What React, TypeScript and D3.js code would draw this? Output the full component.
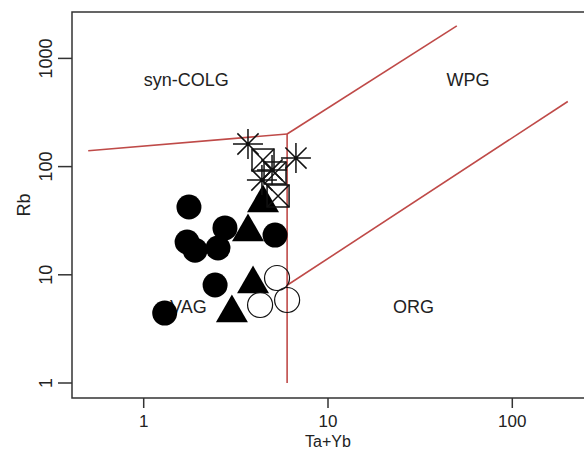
import React from "react";
import * as d3 from "d3";

const xTicks = [1, 10, 100];
const yTicks = [1, 10, 100, 1000];

// Filled circles (Ta+Yb, Rb)
const filledCircleX = [1.76, 1.72, 1.9, 2.53, 2.76, 5.16, 2.44, 1.3];
const filledCircleY = [42.3, 20.1, 16.9, 17.7, 27.1, 23.3, 8.05, 4.43];
// Filled triangles
const triangleX = [4.44, 3.68, 3.92, 3.01];
const triangleY = [46.1, 24.9, 8.22, 4.43];
// Open circles
const openCircleX = [5.29, 4.28, 6.0];
const openCircleY = [9.34, 5.26, 5.85];
// Asterisks
const starX = [3.68, 6.7, 4.38, 4.97];
const starY = [161.8, 120, 75.2, 93];
// Boxed X squares
const squareX = [4.44, 5.16, 5.36];
const squareY = [115, 87.3, 53.5];

// Discrimination boundaries (Pearce et al. 1984)
const boundaries: [number, number][][] = [
  [[0.5, 140], [6, 200]],
  [[6, 200], [50, 2000]],
  [[6, 200], [6, 1]],
  [[6, 8], [200, 400]],
];

const regionLabels = [
  { text: "syn-COLG", x: 1.0, y: 560 },
  { text: "WPG", x: 44, y: 560 },
  { text: "VAG", x: 1.39, y: 4.45 },
  { text: "ORG", x: 22.5, y: 4.45 },
];

export default function App() {
  const x = d3.scaleLog().domain([1, 100]).range([143.7, 512.3]);
  const y = d3.scaleLog().domain([1, 1000]).range([383, 58.4]);
  const left = 72, top = 12, bottom = 398, right = 600;
  const font = "Liberation Sans, Arial, sans-serif";
  const textColor = "#222";
  const lineColor = "#bf4a48";
  const line = d3.line<[number, number]>().x((d) => x(d[0])).y((d) => y(d[1]));

  const tri = (cx: number, cy: number, s: number) => {
    const h = s * 0.866;
    return `M${cx},${cy - (2 * h) / 3} L${cx + s / 2},${cy + h / 3} L${cx - s / 2},${cy + h / 3} Z`;
  };
  const star = (cx: number, cy: number, r: number) => {
    const a = r * 0.7071;
    return `M${cx - r},${cy}L${cx + r},${cy}M${cx},${cy - r}L${cx},${cy + r}M${cx - a},${cy - a}L${cx + a},${cy + a}M${cx - a},${cy + a}L${cx + a},${cy - a}`;
  };

  return (
    <svg
      width={584}
      height={451}
      style={{ position: "absolute", left: 0, top: 0, background: "#fff" }}
      fontFamily={font}
    >
      <rect x={0} y={0} width={584} height={451} fill="#fff" />
      {regionLabels.map((l) => (
        <text key={l.text} x={x(l.x)} y={y(l.y)} fontSize={18} fill={textColor}>
          {l.text}
        </text>
      ))}
      {boundaries.map((b, i) => (
        <path key={i} d={line(b) || ""} fill="none" stroke={lineColor} strokeWidth={1.6} />
      ))}
      {filledCircleX.map((v, i) => (
        <circle key={"fc" + i} cx={x(v)} cy={y(filledCircleY[i])} r={12.5} fill="#000" />
      ))}
      {triangleX.map((v, i) => (
        <path key={"tr" + i} d={tri(x(v), y(triangleY[i]), 32)} fill="#000" />
      ))}
      {openCircleX.map((v, i) => (
        <circle key={"oc" + i} cx={x(v)} cy={y(openCircleY[i])} r={12.5} fill="none" stroke="#111" strokeWidth={1.2} />
      ))}
      {squareX.map((v, i) => {
        const cx = x(v), cy = y(squareY[i]), h = 11;
        return (
          <g key={"sq" + i} stroke="#111" strokeWidth={1.5} fill="none">
            <rect x={cx - h} y={cy - h} width={2 * h} height={2 * h} />
            <path d={`M${cx - h},${cy - h}L${cx + h},${cy + h}M${cx - h},${cy + h}L${cx + h},${cy - h}`} />
          </g>
        );
      })}
      {starX.map((v, i) => (
        <path key={"st" + i} d={star(x(v), y(starY[i]), 15)} stroke="#111" strokeWidth={1.5} fill="none" />
      ))}
      {/* box */}
      <path d={`M${right},${top}H${left}V${bottom}H${right}`} fill="none" stroke="#333" strokeWidth={1.5} />
      {yTicks.map((t) => (
        <g key={"yt" + t}>
          <line x1={58} x2={left} y1={y(t)} y2={y(t)} stroke="#333" strokeWidth={1.5} />
          <text
            transform={`translate(52,${y(t)}) rotate(-90)`}
            textAnchor="middle"
            fontSize={18}
            fill={textColor}
          >
            {t}
          </text>
        </g>
      ))}
      {xTicks.map((t) => (
        <g key={"xt" + t}>
          <line x1={x(t)} x2={x(t)} y1={bottom} y2={408} stroke="#333" strokeWidth={1.5} />
          <text x={x(t)} y={427} textAnchor="middle" fontSize={17} fill={textColor}>
            {t}
          </text>
        </g>
      ))}
      <text transform={`translate(30,${205}) rotate(-90)`} textAnchor="middle" fontSize={18} fill={textColor}>
        Rb
      </text>
      <text x={x(10)} y={447} textAnchor="middle" fontSize={16} fill={textColor}>
        Ta+Yb
      </text>
    </svg>
  );
}
